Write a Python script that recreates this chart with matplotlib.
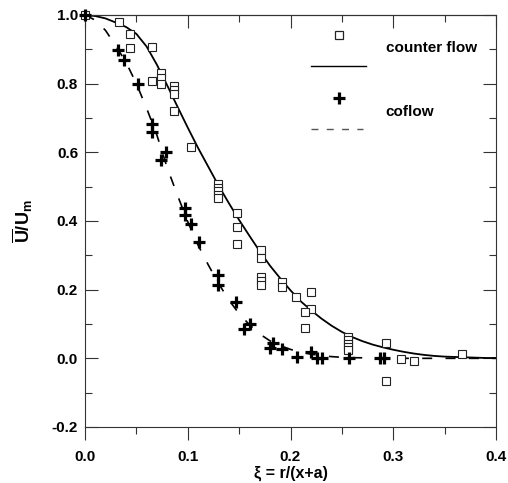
import matplotlib
matplotlib.use("Agg")
import matplotlib.pyplot as plt

plt.rcParams['font.family'] = ['Liberation Sans', 'DejaVu Sans']
plt.rcParams['font.weight'] = 'bold'
plt.rcParams['mathtext.fontset'] = 'custom'
plt.rcParams['mathtext.rm'] = 'Liberation Sans:bold'
plt.rcParams['mathtext.bf'] = 'Liberation Sans:bold'
plt.rcParams['mathtext.it'] = 'Liberation Sans:bold'

# counter flow measurements (open squares)
counter_xi = [0.0, 0.033, 0.044, 0.044, 0.065, 0.074, 0.074, 0.074, 0.065,
              0.087, 0.087, 0.087, 0.087, 0.1035,
              0.129, 0.129, 0.129, 0.129, 0.129,
              0.148, 0.148, 0.148,
              0.171, 0.171, 0.171, 0.171, 0.171,
              0.192, 0.192, 0.205, 0.22, 0.22, 0.214, 0.214,
              0.256, 0.256, 0.256, 0.256, 0.256,
              0.293, 0.293, 0.3075, 0.32, 0.3666]
counter_u = [1.0, 0.98, 0.945, 0.904, 0.906, 0.83, 0.817, 0.80, 0.809,
             0.792, 0.781, 0.771, 0.72, 0.616,
             0.508, 0.497, 0.487, 0.476, 0.466,
             0.422, 0.383, 0.333,
             0.315, 0.291, 0.238, 0.226, 0.214,
             0.223, 0.208, 0.18, 0.194, 0.143, 0.134, 0.087,
             0.063, 0.053, 0.043, 0.033, 0.023,
             0.045, -0.066, -0.003, -0.008, 0.012]

# coflow measurements (bold pluses)
co_xi = [0.0, 0.0325, 0.038, 0.052, 0.065, 0.065, 0.0785, 0.074,
         0.0973, 0.0973, 0.103, 0.111, 0.1298, 0.1298, 0.147,
         0.1547, 0.1606, 0.18, 0.183, 0.192, 0.206, 0.22, 0.226, 0.231,
         0.257, 0.287, 0.291]
co_u = [1.0, 0.898, 0.869, 0.799, 0.682, 0.66, 0.602, 0.578,
        0.437, 0.417, 0.391, 0.34, 0.243, 0.2135, 0.165,
        0.0845, 0.10, 0.03, 0.046, 0.026, 0.004, 0.018, 0.001, 0.0,
        0.002, 0.0, 0.0]

# fitted profile curves
curve_xi = [0.00, 0.01, 0.02, 0.03, 0.04, 0.05, 0.06, 0.07, 0.08, 0.09,
            0.10, 0.11, 0.12, 0.13, 0.14, 0.15, 0.16, 0.17, 0.18, 0.19,
            0.20, 0.21, 0.22, 0.23, 0.24, 0.25, 0.26, 0.27, 0.28, 0.29,
            0.30, 0.31, 0.32, 0.33, 0.34, 0.35, 0.36, 0.37, 0.38, 0.39, 0.40]
counter_curve = [1.000, 0.997, 0.990, 0.978, 0.965, 0.945, 0.908, 0.855, 0.795, 0.733,
                 0.672, 0.613, 0.558, 0.503, 0.452, 0.403, 0.357, 0.312, 0.270, 0.233,
                 0.198, 0.166, 0.140, 0.116, 0.095, 0.077, 0.062, 0.050, 0.040, 0.032,
                 0.025, 0.019, 0.014, 0.010, 0.007, 0.005, 0.004, 0.003, 0.002, 0.001, 0.001]
co_curve = [1.000, 0.985, 0.955, 0.910, 0.862, 0.800, 0.728, 0.650, 0.555, 0.475,
            0.398, 0.330, 0.272, 0.218, 0.170, 0.130, 0.098, 0.071, 0.051, 0.037,
            0.026, 0.018, 0.012, 0.008, 0.005, 0.003, 0.002, 0.0015, 0.001, 0.0005,
            0.0, 0.0, 0.0, 0.0, 0.0, 0.0, 0.0, 0.0, 0.0, 0.0, 0.0]

x_ticks = [0.0, 0.1, 0.2, 0.3, 0.4]
y_ticks = [-0.2, 0.0, 0.2, 0.4, 0.6, 0.8, 1.0]

fig = plt.figure(figsize=(5.08, 4.83), dpi=100)
ax = fig.add_axes([85/508, 1-427/483, 411/508, 412/483])

ax.plot(curve_xi, counter_curve, color='black', lw=1.3, zorder=2)
ax.plot(curve_xi, co_curve, color='black', lw=1.2, linestyle=(0, (6, 8)), zorder=2)
ax.plot(counter_xi, counter_u, linestyle='none', marker='s', markersize=6.3,
        markerfacecolor='white', markeredgecolor='#222222', markeredgewidth=0.8,
        zorder=3, clip_on=False)
ax.plot(co_xi, co_u, linestyle='none', marker='+', markersize=8.5,
        markeredgecolor='black', markeredgewidth=2.3, zorder=4, clip_on=False)

# legend drawn in axes coordinates
ax.plot([0.619], [0.951], transform=ax.transAxes, linestyle='none', marker='s',
        markersize=6.3, markerfacecolor='white', markeredgecolor='#222222', markeredgewidth=0.9)
ax.text(0.733, 0.921, 'counter flow', transform=ax.transAxes, fontsize=11,
        fontweight='bold', ha='left', va='center')
ax.plot([0.551, 0.683], [0.876, 0.876], transform=ax.transAxes, color='black', lw=1.0)
ax.plot([0.619], [0.798], transform=ax.transAxes, linestyle='none', marker='+',
        markersize=8.5, markeredgecolor='black', markeredgewidth=2.3)
ax.text(0.731, 0.765, 'coflow', transform=ax.transAxes, fontsize=11,
        fontweight='bold', ha='left', va='center')
ax.plot([0.551, 0.677], [0.7225, 0.7225], transform=ax.transAxes, color='#555555',
        lw=1.0, linestyle=(0, (5, 6)))

ax.set_xlim(0.0, 0.4)
ax.set_ylim(-0.2, 1.0)
ax.set_xticks(x_ticks)
ax.set_yticks(y_ticks)
ax.set_xticklabels([f'{v:.1f}' for v in x_ticks])
ax.set_yticklabels([f'{v:.1f}' for v in y_ticks])
ax.set_xticks([0.05, 0.15, 0.25, 0.35], minor=True)
ax.set_yticks([-0.1, 0.1, 0.3, 0.5, 0.7, 0.9], minor=True)

ax.tick_params(axis='x', which='both', direction='out', bottom=True, top=False,
               labelsize=11, pad=7)
ax.tick_params(axis='y', which='both', direction='in', left=True, right=True,
               labelsize=11, pad=5)
ax.tick_params(which='major', length=9.4, width=0.8, color='#333333')
ax.tick_params(which='minor', length=4.8, width=0.8, color='#333333')

# top ticks inward drawn via secondary axis
sec = ax.secondary_xaxis('top')
sec.set_xticks(x_ticks)
sec.set_xticks([0.05, 0.15, 0.25, 0.35], minor=True)
sec.tick_params(which='both', direction='in', labeltop=False, width=0.8, color='#333333')
sec.tick_params(which='major', length=9.4)
sec.tick_params(which='minor', length=4.8)
sec.spines['top'].set_linewidth(0.8)
sec.spines['top'].set_color('#333333')

for s in ax.spines.values():
    s.set_linewidth(0.8)
    s.set_color('#333333')

for lab in ax.get_xticklabels() + ax.get_yticklabels():
    lab.set_fontweight('bold')

ax.set_xlabel('ξ = r/(x+a)', fontsize=11.5, fontweight='bold', labelpad=1)
ax.set_ylabel(r'$\overline{\mathrm{U}}\mathrm{/U}_{\mathrm{m}}$', fontsize=13, labelpad=12)

fig.savefig('out.png', dpi=100)
